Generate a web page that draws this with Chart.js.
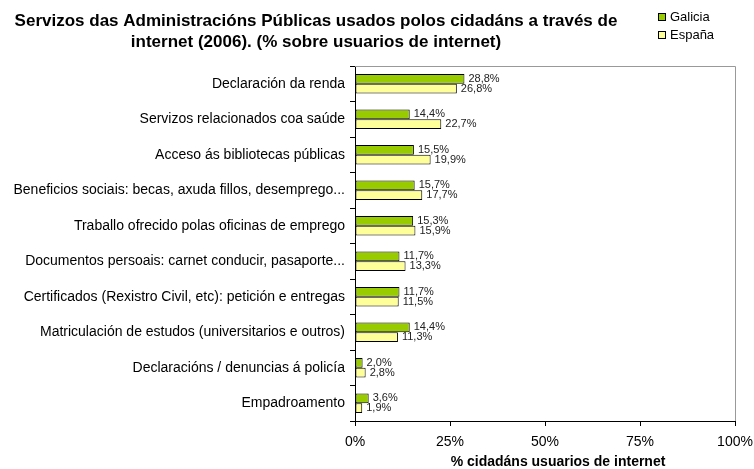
<!DOCTYPE html>
<html>
<head>
<meta charset="utf-8">
<script src="https://cdn.jsdelivr.net/npm/chart.js@4"></script>
<style>
    body { margin: 0; background: #fff; }
    #wrap { width: 754px; height: 469px; }
</style>
</head>
<body>
<div id="wrap"><canvas id="chart" width="754" height="469"></canvas></div>
<script>
// categories and series
const categories = [
    'Declaración da renda',
    'Servizos relacionados coa saúde',
    'Acceso ás bibliotecas públicas',
    'Beneficios sociais: becas, axuda fillos, desemprego...',
    'Traballo ofrecido polas oficinas de emprego',
    'Documentos persoais: carnet conducir, pasaporte...',
    'Certificados (Rexistro Civil, etc): petición e entregas',
    'Matriculación de estudos (universitarios e outros)',
    'Declaracións / denuncias á policía',
    'Empadroamento'
];
const galicia = [28.8, 14.4, 15.5, 15.7, 15.3, 11.7, 11.7, 14.4, 2.0, 3.6];
const espana = [26.8, 22.7, 19.9, 17.7, 15.9, 13.3, 11.5, 11.3, 2.8, 1.9];
const seriesNames = ['Galicia', 'España'];
const xTicks = ['0%', '25%', '50%', '75%', '100%'];

const titleLines = [
    'Servizos das Administracións Públicas usados polos cidadáns a través de',
    'internet (2006). (% sobre usuarios de internet)'
];
const axisTitle = '% cidadáns usuarios de internet';

const FONT = "'Liberation Sans', Arial, sans-serif";
const GREEN = '#99cc00';
const YELLOW = '#ffff99';

const fmt = (v) => v.toFixed(1).replace('.', ',') + '%';

// title, legend, axis title, plot frame and value labels
const decorations = {
    id: 'decorations',
    afterDatasetsDraw(chart) {
        const ctx = chart.ctx;
        const area = chart.chartArea;
        ctx.save();

        // grey frame on top and right of plot area
        ctx.strokeStyle = '#999999';
        ctx.lineWidth = 1;
        ctx.beginPath();
        ctx.moveTo(area.left, area.top + 0.5);
        ctx.lineTo(area.right + 0.5, area.top + 0.5);
        ctx.lineTo(area.right + 0.5, area.bottom);
        ctx.stroke();

        // value labels
        ctx.font = '11px ' + FONT;
        ctx.fillStyle = '#222';
        ctx.textAlign = 'left';
        ctx.textBaseline = 'middle';
        chart.data.datasets.forEach((ds, i) => {
            chart.getDatasetMeta(i).data.forEach((bar, j) => {
                ctx.fillText(fmt(ds.data[j]), bar.x + 4, bar.y);
            });
        });

        // title
        ctx.font = 'bold 17px ' + FONT;
        ctx.fillStyle = '#000';
        ctx.textAlign = 'center';
        titleLines.forEach((line, k) => ctx.fillText(line, 316, 21 + k * 21));

        // x axis title
        ctx.font = 'bold 14px ' + FONT;
        ctx.fillText(axisTitle, 558, 462);

        // legend
        ctx.font = '13px ' + FONT;
        ctx.textAlign = 'left';
        [GREEN, YELLOW].forEach((c, k) => {
            const y = 13 + k * 18;
            ctx.fillStyle = c;
            ctx.fillRect(658, y, 8, 8);
            ctx.strokeStyle = '#000';
            ctx.strokeRect(658.5, y + 0.5, 7, 7);
            ctx.fillStyle = '#000';
            ctx.fillText(seriesNames[k], 670, y + 4.5);
        });
        ctx.restore();
    }
};

new Chart(document.getElementById('chart'), {
    type: 'bar',
    data: {
        labels: categories,
        datasets: [
            {
                label: seriesNames[0],
                data: galicia,
                backgroundColor: GREEN,
                borderColor: '#000',
                borderWidth: 1,
                borderSkipped: false,
                barPercentage: 1,
                categoryPercentage: 0.55
            },
            {
                label: seriesNames[1],
                data: espana,
                backgroundColor: YELLOW,
                borderColor: '#000',
                borderWidth: 1,
                borderSkipped: false,
                barPercentage: 1,
                categoryPercentage: 0.55
            }
        ]
    },
    plugins: [decorations],
    options: {
        indexAxis: 'y',
        responsive: false,
        animation: false,
        layout: { padding: { top: 66, right: 19, bottom: 0, left: 0 } },
        plugins: {
            legend: { display: false },
            title: { display: false },
            tooltip: { enabled: false }
        },
        scales: {
            x: {
                min: 0,
                max: 100,
                afterFit: (s) => {
                    s.height = 48;
                    s.paddingLeft = 0;
                    s.paddingRight = 0;
                },
                afterBuildTicks: (s) => {
                    s.ticks = xTicks.map((t, i) => ({ value: i * 25 }));
                },
                ticks: {
                    color: '#000',
                    font: { family: FONT, size: 14 },
                    padding: 8,
                    callback: (v, i) => xTicks[i]
                },
                grid: {
                    drawOnChartArea: false,
                    drawTicks: true,
                    tickLength: 5,
                    color: '#000'
                },
                border: { display: true, color: '#000' }
            },
            y: {
                afterFit: (s) => {
                    s.width = 355;
                    s.paddingTop = 0;
                    s.paddingBottom = 0;
                },
                ticks: {
                    color: '#000',
                    font: { family: FONT, size: 14 },
                    padding: 5
                },
                grid: {
                    drawOnChartArea: false,
                    drawTicks: true,
                    tickLength: 5,
                    color: '#000',
                    offset: true
                },
                border: { display: true, color: '#000' }
            }
        }
    }
});
</script>
</body>
</html>
